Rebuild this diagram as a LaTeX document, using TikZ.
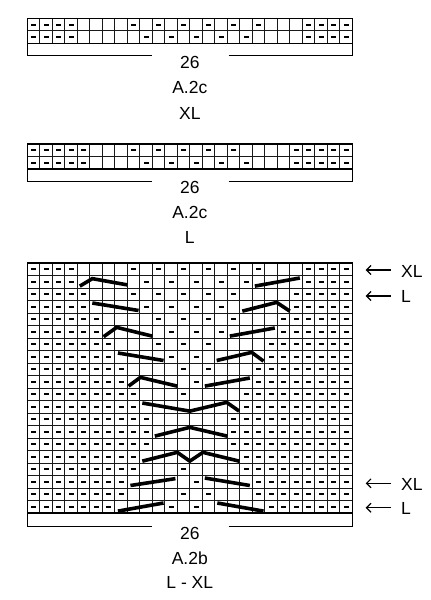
\documentclass[tikz,border=0pt]{standalone}
\usepackage{fontspec}
\setmainfont{Liberation Sans}
\usetikzlibrary{arrows.meta}
\tikzset{
  gridln/.style={line width=1pt, draw=black!90},
  frameln/.style={line width=1.1pt, draw=black},
  cable/.style={line width=3.6pt, line join=miter, line cap=butt},
  lbl/.style={font=\fontsize{17.5}{20}\selectfont, inner sep=0pt},
  arr/.style={line width=1.2pt, -{Straight Barb[length=4.5pt,width=9pt,line width=1.2pt]}}
}
\begin{document}
\begin{tikzpicture}
\useasboundingbox (0,0) rectangle (431pt,-600pt);
\fill[white] (0,0) rectangle (431pt,-600pt);

% ---------- chart A.2c XL ----------
\begin{scope}[shift={(27.3pt,-18.3pt)}, x=12.5pt, y=-12.5pt]
  \foreach \i in {1,...,25} \draw[gridln] (\i,0) -- (\i,2);
  \draw[gridln] (0,1) -- (26,1);
  \draw[frameln] (0,0) rectangle (26,2);
  \draw[frameln] (0,2) -- (0,3) -- (10,3) (16.1,3) -- (26,3) -- (26,2);
  \foreach \r/\L/\R/\mid in {1/4/23/{9,11,13,15,17,19}, 2/4/23/{10,12,14,16,18}} {
    \foreach \c in {1,...,\L} \fill (\c-0.7,\r-0.58) rectangle (\c-0.3,\r-0.42);
    \foreach \c in {\R,...,26} \fill (\c-0.7,\r-0.58) rectangle (\c-0.3,\r-0.42);
    \foreach \c in \mid \fill (\c-0.7,\r-0.58) rectangle (\c-0.3,\r-0.42);
  }
\end{scope}
\node[lbl] (n1) at (189.8pt,-62pt) {26};
\node[lbl] (c1) at (189.8pt,-87pt) {A.2c};
\node[lbl] (s1) at (189.8pt,-113pt) {XL};

% ---------- chart A.2c L ----------
\begin{scope}[shift={(27.3pt,-144pt)}, x=12.5pt, y=-12.5pt]
  \foreach \i in {1,...,25} \draw[gridln] (\i,0) -- (\i,2);
  \draw[gridln] (0,1) -- (26,1);
  \draw[frameln] (0,0) rectangle (26,2);
  \draw[frameln] (0,2) -- (0,3) -- (10,3) (16.1,3) -- (26,3) -- (26,2);
  \foreach \r/\L/\R/\mid in {1/5/22/{9,11,13,15,17}, 2/5/22/{10,12,14,16,18}} {
    \foreach \c in {1,...,\L} \fill (\c-0.7,\r-0.58) rectangle (\c-0.3,\r-0.42);
    \foreach \c in {\R,...,26} \fill (\c-0.7,\r-0.58) rectangle (\c-0.3,\r-0.42);
    \foreach \c in \mid \fill (\c-0.7,\r-0.58) rectangle (\c-0.3,\r-0.42);
  }
\end{scope}
\node[lbl] (n2) at (189.8pt,-187pt) {26};
\node[lbl] (c2) at (189.8pt,-212pt) {A.2c};
\node[lbl] (s2) at (189.8pt,-237pt) {L};

% ---------- chart A.2b L - XL ----------
\begin{scope}[shift={(27.3pt,-263pt)}, x=12.5pt, y=-12.5pt]
  \foreach \i in {1,...,25} \draw[gridln] (\i,0) -- (\i,20);
  \foreach \j in {1,...,19} \draw[gridln] (0,\j) -- (26,\j);
  \draw[frameln] (0,0) rectangle (26,20);
  \draw[frameln] (0,20) -- (0,21.08) -- (10,21.08) (16.1,21.08) -- (26,21.08) -- (26,20);
  \foreach \r/\L/\R/\mid in {
      1/4/23/{9,11,13,15,17,19},
      2/4/23/{10,12,14,16,18},
      3/5/22/{9,11,13,15,17},
      4/5/22/{10,12,14,16},
      5/6/21/{11,13,15,17},
      6/6/21/{12,14,16},
      7/7/20/{11,13,15},
      8/7/20/{12,14},
      9/8/19/{13,15},
      10/8/19/{14},
      11/9/18/{13},
      12/9/18/{1},
      13/10/17/{1},
      14/10/17/{1},
      15/10/17/{1},
      16/9/18/{1},
      17/9/18/{13},
      18/8/19/{14},
      19/8/19/{13,15},
      20/7/20/{12,14}} {
    \foreach \c in {1,...,\L} \fill (\c-0.7,\r-0.58) rectangle (\c-0.3,\r-0.42);
    \foreach \c in {\R,...,26} \fill (\c-0.7,\r-0.58) rectangle (\c-0.3,\r-0.42);
    \foreach \c in \mid \fill (\c-0.7,\r-0.58) rectangle (\c-0.3,\r-0.42);
  }
  % cables
  \draw[cable] (4.2,1.85) -- (5.2,1.25) -- (8.0,1.75);
  \draw[cable] (18.2,1.85) -- (21.8,1.2);
  \draw[cable] (5.2,3.2) -- (8.9,3.8);
  \draw[cable] (17.2,3.85) -- (19.95,3.15) -- (21.0,3.85);
  \draw[cable] (6.1,5.9) -- (7.15,5.15) -- (10.0,5.85);
  \draw[cable] (16.2,5.85) -- (19.8,5.2);
  \draw[cable] (7.25,7.2) -- (10.9,7.8);
  \draw[cable] (15.15,7.8) -- (17.95,7.15) -- (18.9,7.85);
  \draw[cable] (8.1,9.85) -- (9.05,9.15) -- (12.0,9.85);
  \draw[cable] (14.2,9.85) -- (17.8,9.2);
  \draw[cable] (9.2,11.2) -- (13.0,11.85) -- (15.95,11.15) -- (16.95,11.85);
  \draw[cable] (10.2,13.85) -- (13.0,13.15) -- (16.0,13.85);
  \draw[cable] (9.2,15.85) -- (12.0,15.15) -- (13.0,15.85) -- (14.05,15.15) -- (16.95,15.85);
  \draw[cable] (8.25,17.8) -- (11.85,17.25);
  \draw[cable] (14.2,17.2) -- (17.8,17.8);
  \draw[cable] (7.25,19.85) -- (10.9,19.2);
  \draw[cable] (15.2,19.2) -- (18.9,19.85);
\end{scope}
\node[lbl] (n3) at (189.8pt,-533pt) {26};
\node[lbl] (c3) at (189.8pt,-558pt) {A.2b};
\node[lbl] (s3) at (189.8pt,-582pt) {L - XL};

% ---------- size arrows ----------
\node[lbl, anchor=west] (xa) at (401pt,-271pt) {XL};
\node[lbl, anchor=west] (la) at (401pt,-296pt) {L};
\node[lbl, anchor=west] (xb) at (401pt,-484pt) {XL};
\node[lbl, anchor=west] (lb) at (401pt,-508pt) {L};
\coordinate (xa1) at (390.7pt,-270pt); \coordinate (xa2) at (365.7pt,-270pt);
\coordinate (la1) at (390.7pt,-296pt); \coordinate (la2) at (365.7pt,-296pt);
\coordinate (xb1) at (390.7pt,-483.3pt); \coordinate (xb2) at (365.7pt,-483.3pt);
\coordinate (lb1) at (390.7pt,-507.7pt); \coordinate (lb2) at (365.7pt,-507.7pt);
\draw[arr] (xa1) -- (xa2);
\draw[arr] (la1) -- (la2);
\draw[arr] (xb1) -- (xb2);
\draw[arr] (lb1) -- (lb2);
\end{tikzpicture}
\end{document}
